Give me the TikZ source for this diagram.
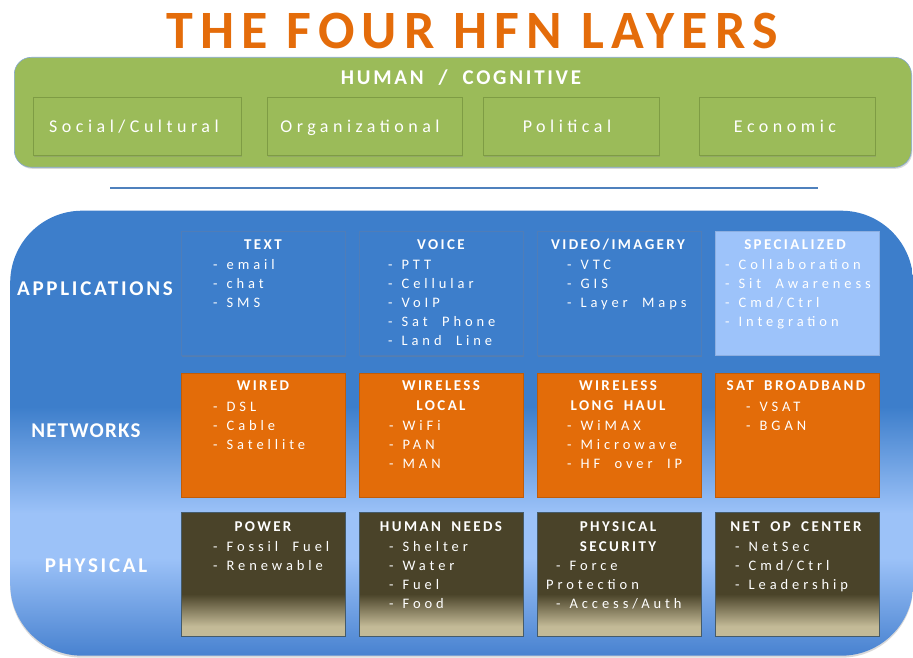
\documentclass[tikz,border=0pt]{standalone}
\usepackage{fontspec}
\setmainfont{Carlito}
\newfontfamily\bigttlfnt[LetterSpace=13]{Carlito}
\newfontfamily\headfnt[LetterSpace=16,WordSpace=1.8]{Carlito}
\newfontfamily\itemfnt[LetterSpace=27,WordSpace=2]{Carlito}
\newfontfamily\subfnt[LetterSpace=25]{Carlito}
\newfontfamily\rowfnt[LetterSpace=6]{Carlito}
\newfontfamily\rowwfnt[LetterSpace=13]{Carlito}
\newfontfamily\humfnt[LetterSpace=13]{Carlito}
\usetikzlibrary{shadows}
\definecolor{ttlorange}{HTML}{E46C0A}
\definecolor{grn}{HTML}{9BBB59}
\definecolor{grnborder}{HTML}{7E9C44}
\definecolor{lineblue}{HTML}{4F81BD}
\definecolor{bb1}{HTML}{3D7ECB}
\definecolor{bb2}{HTML}{9CC2F8}
\definecolor{bb3}{HTML}{4882D0}
\definecolor{appborder}{HTML}{4F7DB8}
\definecolor{specblue}{HTML}{9DC3FA}
\definecolor{netorange}{HTML}{E36C09}
\definecolor{physdark}{HTML}{4A4329}
\definecolor{phystan}{HTML}{C3BA97}
\pgfdeclareverticalshading{bigblue}{100bp}{color(0bp)=(bb3); color(25bp)=(bb3); color(36bp)=(bb2); color(41bp)=(bb2); color(53bp)=(bb1); color(100bp)=(bb1)}
\pgfdeclareverticalshading{physgrad}{100bp}{color(0bp)=(phystan); color(29bp)=(phystan); color(42bp)=(physdark); color(100bp)=(physdark)}
\tikzset{
  cell/.style={rectangle, anchor=north west, inner sep=0pt, minimum width=164pt, minimum height=124pt,
    drop shadow={shadow xshift=1pt, shadow yshift=-1.2pt, opacity=.35}},
  appcell/.style={cell, fill=bb1, draw=appborder, line width=0.6pt},
  speccell/.style={cell, fill=specblue, draw=specblue!90!black, line width=0.4pt},
  netcell/.style={cell, fill=netorange, draw=netorange!85!black, line width=0.4pt},
  physcell/.style={cell, shading=physgrad, draw=physdark!60!bb1, line width=0.4pt},
  subcell/.style={rectangle, anchor=north west, inner sep=0pt, fill=grn, draw=grnborder, line width=0.6pt,
    minimum height=58pt, drop shadow={shadow xshift=0.8pt, shadow yshift=-1.5pt, opacity=.3}},
  subtxt/.style={text=white, font=\subfnt\fontsize{18}{20}\selectfont, anchor=base, inner sep=0pt},
  ttl/.style={text=white, font=\headfnt\bfseries\fontsize{15}{20}\selectfont, anchor=base, inner sep=0pt, align=center},
  itm/.style={text=white, font=\itemfnt\fontsize{14.5}{16}\selectfont, anchor=base west, inner sep=0pt},
  rowlbl/.style={text=white, font=\rowfnt\bfseries\fontsize{21}{24}\selectfont, anchor=base, inner sep=0pt},
  rowlblw/.style={rowlbl, font=\rowwfnt\bfseries\fontsize{21}{24}\selectfont},
}
\newcommand\dsh{-\hspace{9pt}}
\begin{document}
\begin{tikzpicture}[x=1pt,y=-1pt]
\useasboundingbox (0,0) rectangle (913,658);
% title
\node[text=ttlorange, font=\bigttlfnt\bfseries\fontsize{54}{60}\selectfont, anchor=base, inner sep=0pt] (ttl) at (472,48.5) {THE FOUR HFN LAYERS};
% human / cognitive
\node[rectangle, rounded corners=17pt, fill=grn, draw=lineblue!70, line width=0.6pt, minimum width=897pt, minimum height=110pt,
  anchor=north west, inner sep=0pt, drop shadow={shadow xshift=1pt, shadow yshift=-1.5pt, opacity=.3}] (human) at (14,57) {};
\node[text=white, font=\humfnt\bfseries\fontsize{21}{22}\selectfont, anchor=base, inner sep=0pt] (humlbl) at (461,85) {HUMAN\ \ /\ \ COGNITIVE};
\node[subcell, minimum width=208pt] (soc) at (33,97) {};
\node[subcell, minimum width=195pt] (org) at (267,97) {};
\node[subcell, minimum width=176pt] (pol) at (483,97) {};
\node[subcell, minimum width=176pt] (eco) at (699,97) {};
\node[subtxt] (soct) at (134,132) {Social/Cultural};
\node[subtxt] (orgt) at (360,132) {Organizational};
\node[subtxt] (polt) at (567,132) {Political};
\node[subtxt] (ecot) at (785,132) {Economic};
% separator line
\coordinate (la) at (110,188);
\coordinate (lb) at (818,188);
\draw[lineblue, line width=2pt] (la) -- (lb);
% big blue container
\node[rectangle, rounded corners=72pt, shading=bigblue, minimum width=903pt, minimum height=445pt, anchor=north west, inner sep=0pt,
  drop shadow={shadow xshift=0pt, shadow yshift=-2pt, opacity=.3}] (layers) at (10,210.5) {};
% row labels
\node[rowlblw] (rapp) at (95,295) {APPLICATIONS};
\node[rowlbl] (rnet) at (86,437) {NETWORKS};
\node[rowlblw] (rphy) at (96,572) {PHYSICAL};
% applications
\node[appcell] (text) at (181,231) {};
\node[appcell] (voice) at (359,231) {};
\node[appcell] (video) at (537,231) {};
\node[speccell] (spec) at (715,231) {};
\node[ttl] (textt) at (263,249) {TEXT};
\foreach \s [count=\i] in {email,chat,SMS} \node[itm] (texti\i) at (213,{269+19*(\i-1)}) {\dsh\s};
\node[ttl] (voicet) at (441,249) {VOICE};
\foreach \s [count=\i] in {PTT,Cellular,VoIP,Sat Phone,Land Line} \node[itm] (voicei\i) at (388,{269+19*(\i-1)}) {\dsh\s};
\node[ttl] (videot) at (618,249) {VIDEO/IMAGERY};
\foreach \s [count=\i] in {VTC,GIS,Layer Maps} \node[itm] (videoi\i) at (567,{269+19*(\i-1)}) {\dsh\s};
\node[ttl] (spect) at (795,249) {SPECIALIZED};
\foreach \s [count=\i] in {Collaboration,Sit Awareness,Cmd/Ctrl,Integration} \node[itm] (speci\i) at (725,{269+19*(\i-1)}) {\dsh\s};
% networks
\node[netcell] (wired) at (181,373) {};
\node[netcell] (wlocal) at (359,373) {};
\node[netcell] (wlong) at (537,373) {};
\node[netcell] (sat) at (715,373) {};
\node[ttl] (wiredt) at (263,390) {WIRED};
\foreach \s [count=\i] in {DSL,Cable,Satellite} \node[itm] (wiredi\i) at (213,{411+19*(\i-1)}) {\dsh\s};
\node[ttl] (wlocalt) at (441,410) {WIRELESS\\LOCAL};
\foreach \s [count=\i] in {WiFi,PAN,MAN} \node[itm] (wlocali\i) at (389,{430+19*(\i-1)}) {\dsh\s};
\node[ttl] (wlongt) at (618,410) {WIRELESS\\LONG HAUL};
\foreach \s [count=\i] in {WiMAX,Microwave,HF over IP} \node[itm] (wlongi\i) at (567,{430+19*(\i-1)}) {\dsh\s};
\node[ttl] (satt) at (796,390) {SAT BROADBAND};
\foreach \s [count=\i] in {VSAT,BGAN} \node[itm] (sati\i) at (746,{411+19*(\i-1)}) {\dsh\s};
% physical
\node[physcell] (power) at (181,512) {};
\node[physcell] (needs) at (359,512) {};
\node[physcell] (psec) at (537,512) {};
\node[physcell] (noc) at (715,512) {};
\node[ttl] (powert) at (263,531) {POWER};
\foreach \s [count=\i] in {Fossil Fuel,Renewable} \node[itm] (poweri\i) at (213,{551+19*(\i-1)}) {\dsh\s};
\node[ttl] (needst) at (441,531) {HUMAN NEEDS};
\foreach \s [count=\i] in {Shelter,Water,Fuel,Food} \node[itm] (needsi\i) at (389,{551+19*(\i-1)}) {\dsh\s};
\node[ttl] (psect) at (618,551) {PHYSICAL\\SECURITY};
\node[itm] (pseci1) at (556,570) {\dsh Force};
\node[itm] (pseci2) at (546,589) {Protection};
\node[itm] (pseci3) at (556,608) {\dsh Access/Auth};
\node[ttl] (noct) at (796,531) {NET OP CENTER};
\foreach \s [count=\i] in {NetSec,Cmd/Ctrl,Leadership} \node[itm] (noci\i) at (735,{551+19*(\i-1)}) {\dsh\s};
\end{tikzpicture}
\end{document}
